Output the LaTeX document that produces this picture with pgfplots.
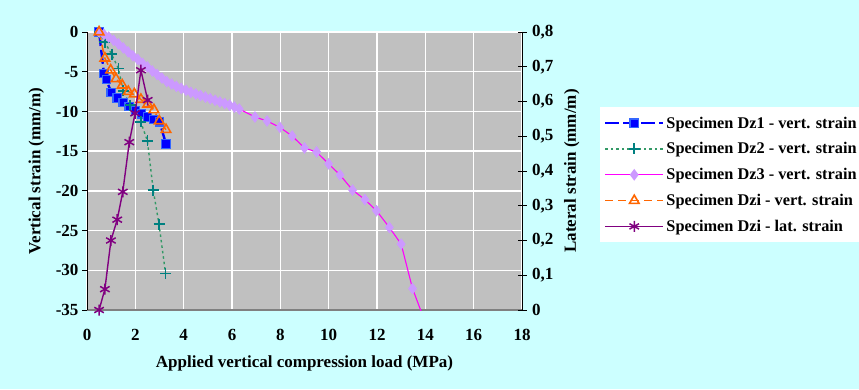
\documentclass[border=0pt]{standalone}
\usepackage{fontspec}
\setmainfont{Liberation Serif}
\usepackage{pgfplots}
\pgfplotsset{compat=1.18}
\definecolor{bgc}{HTML}{CCFFFF}
\definecolor{plotbg}{HTML}{C0C0C0}
\definecolor{dzone}{HTML}{0000FF}
\definecolor{dzonefill}{HTML}{3366FF}
\definecolor{dztwo}{HTML}{339966}
\definecolor{dztwom}{HTML}{008080}
\definecolor{dzthree}{HTML}{FF00FF}
\definecolor{dzthreem}{HTML}{CC99FF}
\definecolor{dzi}{HTML}{FF6600}
\definecolor{dzl}{HTML}{800080}
\newcommand{\lblfont}{\bfseries\fontsize{17}{19}\selectfont}
\newcommand{\legfont}{\bfseries\fontsize{16.3}{18.5}\selectfont}
\pgfplotsset{
  s1/.style={dzone, line width=2.4pt, dash pattern=on 14pt off 4pt, mark=square*, mark size=4.2pt, mark options={solid, fill=dzone, draw=dzonefill, line width=1.2pt}},
  s2/.style={dztwo, line width=1.4pt, dash pattern=on 2.5pt off 3pt, mark=+, mark size=5.5pt, mark options={solid, draw=dztwom, line width=1.7pt}},
  s3/.style={dzthree, line width=1.1pt, mark=diamond*, mark size=5pt, mark options={solid, fill=dzthreem, draw=dzthreem}},
  s4/.style={dzi, line width=1.5pt, dash pattern=on 8pt off 5pt, mark=triangle, mark size=5.5pt, mark options={solid, draw=dzi, line width=1.6pt}},
  s5/.style={dzl, line width=1.4pt, mark=asterisk, mark size=5.5pt, mark options={solid, draw=dzl, line width=1.5pt}},
}
\begin{document}
\begin{tikzpicture}[x=1pt,y=1pt]
\useasboundingbox (0,0) rectangle (859,389);
\fill[bgc] (0,0) rectangle (859,389);
\begin{axis}[
  at={(87pt,79pt)}, anchor=south west, scale only axis,
  width=435pt, height=278pt,
  xmin=0, xmax=18, ymin=-35, ymax=0,
  xtick={0,2,...,18}, ytick={-35,-30,...,0},
  axis background/.style={fill=plotbg},
  grid=major, major grid style={white, line width=1.5pt},
  axis x line*=bottom, axis y line*=left,
  x axis line style={draw=gray, line width=1.5pt, -},
  y axis line style={draw=black, line width=0.8pt, -},
  xtick style={draw=none}, ytick style={draw=black, line width=0.8pt},
  tick align=outside, major tick length=5pt,
  /pgf/number format/assume math mode=true,
  ticklabel style={font=\lblfont},
  xticklabel style={yshift=-11pt},
  xlabel={Applied vertical compression load (MPa)},
  ylabel={Vertical strain (mm/m)},
  label style={font=\lblfont},
  xlabel style={yshift=-8pt},
  ylabel style={yshift=5pt},
  clip=true,
]
\addplot[s1] coordinates {(0.5,0) (0.7,-5.2) (0.8,-6.0) (1.0,-7.6) (1.25,-8.3) (1.5,-8.9) (1.75,-9.4) (2.0,-9.9) (2.25,-10.3) (2.5,-10.7) (2.75,-11.0) (3.0,-11.3) (3.27,-14.1)};
\addplot[s2] coordinates {(0.5,0) (0.74,-1.3) (1.02,-2.8) (1.3,-4.6) (1.5,-7.4) (1.78,-9.2) (2.22,-11.3) (2.5,-13.7) (2.74,-19.9) (2.98,-24.2) (3.25,-30.4)};
\addplot[s3] coordinates {(0.5,0) (0.7,-0.3) (0.9,-0.65) (1.1,-1.05) (1.3,-1.5) (1.5,-2.0) (1.7,-2.5) (1.9,-3.0) (2.1,-3.45) (2.3,-3.95) (2.5,-4.4) (2.7,-4.9) (2.9,-5.35) (3.1,-5.8) (3.3,-6.25) (3.5,-6.55) (3.7,-6.85) (3.9,-7.1) (4.1,-7.35) (4.3,-7.6) (4.5,-7.8) (4.7,-8.0) (4.9,-8.2) (5.1,-8.4) (5.3,-8.6) (5.5,-8.8) (5.7,-9.0) (5.9,-9.2) (6.1,-9.45) (6.3,-9.7) (6.95,-10.7) (7.45,-11.2) (7.98,-12.0) (8.49,-13.1) (9.0,-14.6) (9.5,-15.1) (10.0,-16.6) (10.47,-18.0) (10.99,-19.9) (11.5,-21.1) (11.98,-22.5) (12.51,-24.6) (13.0,-26.7) (13.47,-32.3) (14.0,-36.6)};
\addplot[s4] coordinates {(0.5,0) (0.74,-3.3) (0.98,-4.8) (1.2,-5.9) (1.46,-6.7) (1.71,-7.5) (1.96,-7.8) (2.23,-8.5) (2.51,-9.1) (2.77,-9.8) (2.99,-11.2) (3.27,-12.3)};
\end{axis}
\begin{axis}[
  at={(87pt,79pt)}, anchor=south west, scale only axis,
  width=435pt, height=278pt,
  xmin=0, xmax=18, ymin=0, ymax=0.8,
  ytick={0,0.1,...,0.8},
  axis x line=none, axis y line*=right,
  y axis line style={draw=black, line width=0.8pt, -},
  ytick style={draw=black, line width=0.8pt},
  tick align=center, major tick length=9pt,
  /pgf/number format/assume math mode=true,
  /pgf/number format/use comma, /pgf/number format/fixed,
  ticklabel style={font=\lblfont},
  yticklabel style={xshift=2pt},
  ylabel={Lateral strain (mm/m)},
  label style={font=\lblfont},
  ylabel style={yshift=-4pt},
  clip=true,
  legend style={at={(1.179,0.730)}, anchor=north west, draw=none, fill=white,
    font=\legfont, row sep=9pt, inner xsep=4pt, inner ysep=7.5pt,
    /tikz/every even column/.append style={column sep=2pt}},
  legend cell align=left,
  legend image code/.code={\draw[#1] plot coordinates {(0pt,0pt) (29pt,0pt) (58pt,0pt)};},
  legend image post style={mark repeat=2, mark phase=2},
]
\addlegendimage{s1}
\addlegendentry{Specimen Dz1 - vert. strain}
\addlegendimage{s2}
\addlegendentry{Specimen Dz2 - vert. strain}
\addlegendimage{s3}
\addlegendentry{Specimen Dz3 - vert. strain}
\addlegendimage{s4}
\addlegendentry{Specimen Dzi - vert. strain}
\addplot[s5] coordinates {(0.5,0) (0.74,0.06) (0.99,0.20) (1.25,0.26) (1.48,0.34) (1.75,0.483) (1.99,0.566) (2.23,0.69) (2.51,0.604)};
\addlegendentry{Specimen Dzi - lat. strain}
\end{axis}
\end{tikzpicture}
\end{document}
